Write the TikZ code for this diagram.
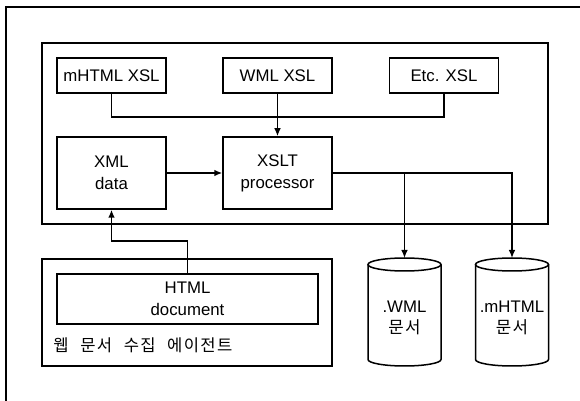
\documentclass[tikz,border=0pt]{standalone}
\usepackage{fontspec}
\setmainfont{Liberation Sans}
\newfontfamily\kr[LetterSpace=8,WordSpace=2.3]{Noto Sans CJK KR}
\usetikzlibrary{arrows.meta}
\tikzset{
  box/.style={draw, line width=0.75pt, inner sep=0pt, align=center,
    font=\fontsize{8.4}{11}\selectfont},
  smallbox/.style={box, minimum width=54.5pt, minimum height=17.5pt},
  bigbox/.style={box, minimum width=54.5pt, minimum height=36pt},
  frame/.style={draw, line width=0.75pt},
  conn/.style={line width=0.85pt},
  arr/.style={conn, -{Latex[length=4pt,width=3.4pt]}},
  cyl/.style={line width=0.75pt},
  txt/.style={inner sep=0pt, align=center, font=\fontsize{8.4}{10.5}\selectfont}
}
\begin{document}
\begin{tikzpicture}[x=0.5pt,y=-0.5pt]
\useasboundingbox (0,0) rectangle (580,401);
\clip (0,0) rectangle (580,401);
% outer frame
\draw[line width=0.8pt] (6,7) rectangle (600,420);
% inner frame
\draw[frame] (42,43) rectangle (548,224);
% top boxes
\node[smallbox] (mh) at (111.5,75.5) {mHTML XSL};
\node[smallbox] (wml) at (277.5,75.5) {WML XSL};
\node[smallbox] (etc) at (444,75.5) {Etc. XSL};
\node[bigbox] (xml) at (111.5,173) {XML\\data};
\node[bigbox] (xslt) at (277.5,173) {XSLT\\processor};
% agent box
\draw[frame] (42,259) rectangle (332,366);
\node[box, minimum width=130.5pt, minimum height=25pt] (html) at (187.5,299) {HTML\\document};
\node[anchor=west, inner sep=0pt, font=\fontsize{8.3}{10}\kr] (agent) at (53,345) {웹 문서 수집 에이전트};
% cylinders
\foreach \n/\cx in {wdb/404.5, mdb/512}{
  \draw[cyl] (\cx-36.5,264.5) -- (\cx-36.5,359.5) arc[start angle=180, end angle=0, x radius=36.5, y radius=6.5] -- (\cx+36.5,264.5);
  \draw[cyl] (\cx,264.5) ellipse[x radius=36.5, y radius=6.5];
  \coordinate (\n top) at (\cx,258);
}
\node[txt] (wdb) at (404.5,318) {.WML\\{\kr 문서}};
\node[txt] (mdb) at (512,318) {.mHTML\\{\kr 문서}};
% connectors
\draw[conn] (mh.south) -- ++(0,23) -| (etc.south);
\draw[arr] (wml.south) -- (xslt.north);
\draw[arr] (xml.east) -- (xslt.west);
\draw[arr] (xslt.east) -| (mdbtop);
\coordinate (split) at (404.5,173);
\draw[arr] (split) -- (wdbtop);
\draw[arr] (html.north) -- ++(0,-32) -| (xml.south);
\end{tikzpicture}
\end{document}
